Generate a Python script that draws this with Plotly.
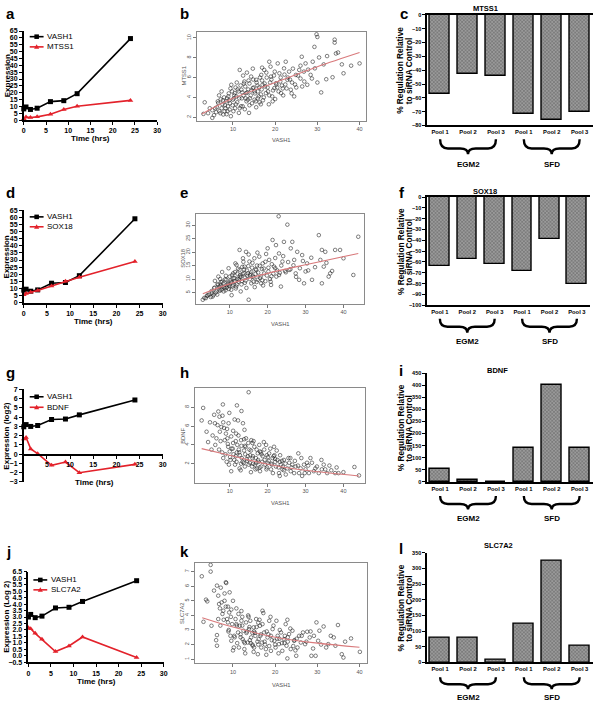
import plotly.graph_objects as go

W, H = 600, 707
def fx(p): return p / W
def fy(p): return 1 - p / H

# ---------------- data ----------------
time_hrs = [0, 0.5, 1.5, 3, 6, 9, 12, 24]
vash1_a = [8.2, 9.6, 7.8, 8.7, 13.5, 14.2, 19.3, 59.5]
mtss1_a = [1.0, 2.2, 1.9, 2.4, 4.3, 7.7, 10.1, 14.4]
vash1_d = [8.8, 9.5, 8.1, 9.0, 13.7, 14.2, 19.0, 59.0]
sox18_d = [5.6, 6.5, 7.4, 8.6, 11.8, 15.1, 17.9, 29.0]
vash1_g = [2.96, 3.2, 3.0, 3.1, 3.75, 3.8, 4.25, 5.86]
bdnf_g = [1.64, 1.8, 0.57, 0.05, -1.2, -0.85, -2.0, -1.1]
vash1_j = [3.0, 3.2, 2.95, 3.07, 3.7, 3.75, 4.2, 5.8]
slc7a2_j = [2.17, 2.1, 1.74, 1.28, 0.34, 0.77, 1.46, -0.12]

pool_labels = ["Pool 1", "Pool 2", "Pool 3", "Pool 1", "Pool 2", "Pool 3"]
mtss1_bar = [-57.3, -42.5, -43.9, -71.6, -75.9, -70.2]
sox18_bar = [-63.4, -57.0, -61.6, -68.0, -38.4, -80.2]
bdnf_bar = [52, 7, 1, 141, 400, 141]
slc7a2_bar = [80, 77, 7, 122, 325, 53]

# scatter b: VASH1 vs MTSS1
b_x = [3.3, 3.0, 4.1, 5.1, 5.1, 6.5, 6.7, 7.3, 7.7, 8.0, 8.4, 8.8, 9.2, 9.6, 10.0, 10.4, 10.8, 11.4,
       11.6, 12.0, 12.3, 12.7, 13.1, 13.5, 13.8, 14.3, 14.7, 15.1, 15.5, 15.9, 16.3, 16.7, 17.0, 17.4,
       17.8, 18.6, 19.0, 19.8, 20.0, 20.2, 20.6, 21.0, 21.4, 22.1, 22.5, 22.9, 23.3, 23.7, 24.5, 24.9,
       25.7, 26.3, 26.4, 26.8, 27.2, 27.6, 28.4, 28.9, 29.3, 29.4, 29.8, 30.0, 30.0, 30.4, 30.9, 31.5,
       32.3, 32.1, 33.6, 34.1, 34.1, 34.4, 34.9, 35.8, 36.2, 38.0, 40.0,
       6.2, 6.8, 7.1, 7.5, 7.9, 8.2, 8.6, 9.0, 9.3, 9.8, 10.2, 10.6, 11.0, 11.3, 11.8, 12.1, 12.5, 12.9,
       13.2, 13.6, 13.9, 14.2, 14.5, 14.9, 15.2, 15.6, 15.9, 16.2, 16.6, 16.9, 17.3, 17.6, 18.0, 18.3,
       18.8, 19.3, 19.7, 20.5, 21.2, 21.8, 22.4, 23.0, 24.0, 25.0, 26.0, 4.5, 5.5, 6.0, 8.5, 9.5, 10.5,
       12.8, 15.5, 18.5,
       5.8, 6.4, 7.0, 7.6, 8.1, 8.7, 9.1, 9.4, 9.9, 10.3, 10.7, 11.1, 11.5, 11.9, 12.2, 12.6, 13.0,
       13.4, 13.7, 14.0, 14.4, 14.8, 15.1, 15.4, 15.8, 16.1, 16.4, 16.8, 17.1, 17.5, 17.9, 18.2, 18.6,
       19.1, 19.5, 19.9, 20.3, 20.8, 21.3, 21.6, 22.2, 22.7, 23.5, 24.2, 24.7, 25.4, 26.0, 26.9, 27.8,
       28.7, 7.3, 8.9, 10.9, 12.4, 13.3, 14.7, 16.9, 18.9, 10.1, 11.6, 13.9, 16.6, 19.4, 21.9, 23.9]
b_y = [3.5, 2.33, 2.4, 2.7, 1.93, 3.43, 4.2, 2.9, 2.27, 2.6, 3.6, 3.1, 2.77, 5.27, 3.77, 4.43, 4.1, 2.43,
       6.77, 4.77, 3.1, 5.6, 4.43, 3.77, 2.43, 6.1, 4.93, 3.77, 5.77, 4.6, 3.5, 6.27, 5.27, 6.77,
       4.43, 7.6, 6.1, 4.93, 3.83, 5.43, 7.43, 6.43, 4.43, 6.93, 7.6, 5.77, 6.6, 4.77, 4.1, 6.27,
       6.77, 8.1, 5.1, 6.6, 7.43, 5.27, 6.27, 7.6, 9.1, 6.93, 10.37, 10.1, 5.5, 8.03, 4.5, 7.33,
       8.17, 5.83, 6.03, 9.83, 9.53, 8.43, 8.53, 7.33, 6.43, 7.2, 7.43,
       3.0, 2.6, 3.8, 3.3, 4.0, 2.9, 3.9, 4.4, 3.4, 4.6, 3.9, 5.0, 3.5, 4.6, 5.2, 3.9, 4.2, 5.1,
       3.6, 4.8, 5.4, 4.2, 3.4, 5.0, 4.4, 5.5, 3.9, 5.0, 4.3, 5.7, 4.0, 5.1, 6.0, 4.6,
       5.5, 4.1, 6.2, 5.0, 5.6, 4.9, 5.3, 6.0, 5.5, 5.0, 5.9, 2.9, 2.2, 2.5, 2.3, 2.1, 2.9,
       2.8, 3.0, 3.3,
       2.9, 3.6, 2.4, 3.7, 3.2, 2.6, 3.7, 4.9, 3.2, 4.2, 3.3, 4.8, 3.9, 3.1, 4.5, 5.4, 3.9,
       4.5, 5.7, 3.9, 4.7, 5.8, 4.6, 3.6, 5.2, 4.1, 6.0, 4.8, 3.7, 5.4, 6.5, 5.0, 4.2,
       5.8, 4.7, 6.6, 5.3, 4.6, 6.0, 5.2, 6.3, 4.9, 5.8, 6.9, 5.3, 6.2, 7.2, 5.6, 6.8,
       5.9, 4.6, 4.1, 5.5, 6.2, 6.5, 6.9, 7.0, 7.1, 2.6, 2.9, 3.2, 3.3, 3.6, 4.2, 4.4]
b_fit_x = [2.6, 10, 20, 30, 40]
b_fit_y = [2.33, 3.9, 5.5, 7.1, 8.53]

# scatter e: VASH1 vs SOX18
e_x = [2.9, 3.7, 5.0, 5.7, 6.5, 7.0, 7.2, 7.8, 8.3, 8.7, 9.1, 9.6, 10.0, 10.4, 10.9, 11.3, 11.7, 12.6,
       12.6, 13.0, 13.5, 13.9, 14.3, 14.8, 15.0, 15.2, 15.7, 16.1, 16.5, 17.0, 17.4, 17.8, 18.3, 18.7,
       19.1, 20.0, 20.4, 20.9, 21.3, 21.7, 22.2, 22.3, 22.9, 23.0, 23.5, 23.9, 24.3, 25.2, 25.7, 26.1,
       26.5, 27.0, 27.4, 27.8, 28.3, 29.1, 29.6, 30.0, 30.4, 31.7, 33.5, 33.9, 34.3, 34.3, 34.8, 35.2,
       36.1, 36.5, 37.8, 39.1, 40.0, 42.6, 43.9,
       6.0, 6.8, 7.4, 8.0, 8.5, 9.0, 9.4, 9.8, 10.2, 10.6, 11.0, 11.4, 11.9, 12.2, 12.8, 13.2, 13.7,
       14.1, 14.5, 15.4, 15.9, 16.3, 16.8, 17.2, 18.0, 18.5, 19.4, 20.2, 21.0, 22.0, 23.2, 24.6, 4.2,
       5.3, 7.6, 8.9, 10.7, 12.0, 13.3, 14.0, 15.5, 11.5, 12.4,
       4.5, 5.2, 5.9, 6.3, 6.9, 7.3, 7.7, 8.1, 8.4, 8.8, 9.2, 9.5, 9.9, 10.3, 10.6, 10.9, 11.3, 11.6,
       12.0, 12.3, 12.7, 13.1, 13.4, 13.8, 14.2, 14.6, 14.9, 15.3, 15.7, 16.0, 16.4, 16.8, 17.1, 17.5,
       17.9, 18.2, 18.6, 19.0, 19.4, 19.8, 20.2, 20.6, 21.1, 21.5, 22.0, 22.5, 23.0, 23.6, 24.1, 24.8,
       25.4, 26.0, 26.8, 27.5, 28.5, 29.3, 30.7, 31.5, 32.5, 35.5, 37.0, 10.5, 12.9, 14.4, 16.6, 18.8,
       20.8, 8.0, 9.7, 11.8, 13.6, 15.0, 17.3, 19.6, 6.1, 7.5, 5.5, 4.0, 3.3, 6.7]
e_y = [2.3, 2.9, 3.3, 4.1, 5.4, 10.9, 7.2, 6.0, 8.4, 6.6, 9.7, 7.8, 10.9, 6.0, 12.1, 9.1, 7.2, 20.8,
       13.4, 10.9, 17.7, 14.6, 20.1, 12.1, 2.3, 16.5, 8.4, 10.9, 17.7, 13.4, 9.7, 18.3, 8.4, 15.8,
       12.1, 21.4, 17.1, 7.8, 24.5, 14.6, 22.6, 10.9, 33.3, 19.5, 7.2, 16.5, 23.8, 30.2, 13.4, 21.4,
       23.8, 17.1, 12.1, 20.1, 9.7, 18.9, 8.4, 12.8, 15.8, 9.7, 26.3, 17.1, 20.8, 8.4, 14.6, 20.1,
       10.9, 12.1, 20.8, 20.8, 17.7, 11.5, 25.7,
       6.8, 8.1, 5.6, 9.0, 7.0, 11.2, 8.0, 6.3, 9.5, 8.8, 10.3, 12.6, 8.0, 13.8, 11.5, 9.3, 12.2,
       10.6, 13.2, 11.4, 14.2, 9.0, 11.9, 15.0, 10.4, 13.7, 9.2, 12.8, 11.0, 14.0, 12.3, 13.0, 4.0,
       4.8, 7.5, 5.8, 7.4, 10.1, 14.5, 8.6, 12.0, 15.8, 9.9,
       4.2, 5.5, 6.6, 4.9, 7.8, 6.1, 8.9, 7.2, 5.4, 9.9, 6.8, 8.3, 7.4, 9.0, 11.4, 7.9, 10.3, 6.5,
       12.0, 9.0, 10.8, 8.0, 11.9, 13.5, 9.4, 11.2, 14.8, 10.0, 12.6, 16.0, 10.6, 13.6, 8.9, 12.4,
       14.9, 11.0, 9.5, 13.9, 16.4, 11.3, 14.2, 10.0, 15.5, 12.0, 17.8, 13.2, 11.5, 15.0, 18.5, 12.5,
       16.3, 13.6, 15.1, 10.8, 14.0, 16.7, 13.2, 17.9, 14.4, 16.0, 13.0, 4.0, 5.4, 6.7, 7.0, 7.6,
       9.0, 12.6, 14.0, 15.2, 16.4, 19.1, 19.8, 19.3, 9.3, 10.0, 3.5, 3.7, 3.0, 4.2]
e_fit_x = [2.9, 10, 20, 30, 43.9]
e_fit_y = [4.5, 8.2, 12.1, 15.3, 19.5]

# scatter h: VASH1 vs BDNF
h_x = [3.0, 2.6, 3.9, 4.3, 4.8, 5.2, 6.1, 6.5, 7.0, 7.2, 7.4, 7.8, 8.1, 8.3, 8.3, 8.7, 9.0, 9.3, 9.6,
       9.8, 10.0, 10.4, 10.9, 11.3, 11.6, 11.7, 12.2, 12.4, 12.6, 13.0, 13.5, 13.7, 13.9, 14.2, 14.3,
       14.8, 15.0, 15.2, 15.7, 15.9, 16.1, 16.5, 17.0, 17.4, 17.8, 18.3, 18.7, 19.1, 19.6, 20.0, 20.4,
       20.9, 21.3, 21.7, 22.2, 22.6, 23.0, 23.5, 23.9, 24.3, 24.8, 25.2, 25.7, 26.1, 26.5, 27.0, 27.4,
       28.1, 28.3, 28.7, 29.1, 29.6, 30.0, 30.4, 30.9, 31.7, 32.2, 32.6, 33.5, 34.2, 34.3, 35.2, 35.7,
       36.3, 37.8, 38.7, 40.0, 42.9, 44.1,
       10.2, 11.0, 11.8, 12.5, 13.2, 13.8, 14.6, 15.4, 16.2, 16.9, 17.6, 18.4, 19.2, 20.1, 21.0, 22.0,
       23.2, 12.0, 14.0, 16.0, 18.0, 9.5, 10.8, 13.0, 15.0, 17.2, 19.8, 21.8, 24.0, 26.0,
       5.5, 6.2, 6.8, 7.6, 8.0, 8.5, 8.9, 9.4, 9.7, 10.1, 10.5, 10.9, 11.2, 11.6, 11.9, 12.3, 12.7,
       13.1, 13.4, 13.8, 14.1, 14.5, 14.9, 15.3, 15.6, 16.0, 16.3, 16.7, 17.1, 17.5, 17.9, 18.2, 18.6,
       19.0, 19.4, 19.8, 20.3, 20.7, 21.1, 21.6, 22.0, 22.4, 22.9, 23.3, 23.8, 24.3, 24.7, 25.5, 26.3,
       27.2, 28.0, 28.9, 29.8, 30.7, 31.3, 33.0, 34.8, 36.8, 38.2, 10.4, 12.9, 15.6, 18.0, 21.4, 23.2,
       9.2, 11.4, 14.0, 16.8, 19.7, 7.3, 9.9, 11.9, 13.1, 8.2, 5.9]
h_y = [7.93, 6.6, 5.4, 4.3, 6.4, 3.5, 6.3, 4.7, 7.55, 3.5, 5.4, 5.9, 7.1, 6.4, 2.6, 4.5, 5.2, 5.7, 3.8,
       1.9, 3.3, 4.9, 4.2, 6.7, 2.8, 5.2, 6.6, 3.5, 1.5, 4.5, 6.3, 2.1, 5.6, 3.8, 4.7,
       2.8, 9.6, 3.5, 4.5, 1.7, 2.8, 3.8, 2.1, 3.1, 4.0, 1.7, 2.8, 3.5, 4.0, 2.1, 3.1,
       1.4, 2.6, 3.8, 1.7, 2.4, 1.0, 1.9, 1.4, 2.4, 0.85, 1.5, 2.1, 1.2, 1.9, 1.0, 1.7,
       3.1, 1.0, 1.5, 0.7, 1.9, 1.4, 2.1, 1.0, 2.1, 1.2, 1.5, 1.0, 2.4, 1.4, 1.4, 1.0,
       1.8, 1.0, 1.0, 1.1, 1.65, 0.75,
       2.4, 3.0, 2.2, 3.2, 2.6, 3.4, 2.3, 2.9, 2.0, 2.6, 2.2, 3.0, 2.4, 2.7, 2.0, 2.5,
       2.2, 4.0, 3.9, 4.2, 3.3, 4.1, 3.6, 2.0, 1.9, 1.5, 1.6, 2.9, 1.7, 2.6,
       5.0, 4.0, 6.1, 4.4, 3.2, 5.8, 3.0, 4.7, 6.3, 2.7, 3.6, 5.5, 2.4, 4.4, 3.2, 5.0, 2.9,
       3.9, 2.2, 4.6, 3.0, 2.5, 4.2, 2.1, 3.4, 2.6, 4.4, 1.9, 3.5, 2.4, 1.6, 3.2, 2.2,
       4.3, 1.9, 2.9, 2.3, 3.6, 1.9, 2.8, 2.2, 3.4, 1.6, 2.9, 2.3, 1.3, 2.0, 2.6, 1.6,
       2.3, 1.8, 2.6, 1.0, 1.8, 2.6, 1.7, 1.9, 1.3, 1.6, 1.2, 1.3, 1.1, 1.2, 1.0, 0.7,
       2.2, 1.9, 1.7, 1.4, 1.4, 7.0, 7.4, 8.2, 7.6, 8.3, 7.2]
h_fit_x = [2.6, 10, 20, 30, 44.1]
h_fit_y = [3.6, 2.9, 1.95, 1.3, 0.7]

# scatter k: VASH1 vs SLC7A2
k_x = [2.6, 3.0, 3.6, 3.9, 4.7, 4.7, 4.9, 6.2, 6.5, 6.7, 6.5, 6.2, 6.2, 6.9, 7.3, 7.7, 8.0, 8.3, 8.4,
       8.6, 8.8, 9.1, 9.2, 9.4, 9.6, 9.8, 10.0, 10.2, 10.6, 10.8, 11.2, 11.4, 11.6, 12.0, 12.3, 12.5,
       12.7, 13.1, 13.5, 13.8, 14.1, 14.3, 14.7, 14.9, 15.3, 15.5, 15.9, 16.1, 16.4, 16.7, 16.9, 17.0,
       17.2, 17.4, 17.8, 18.2, 18.6, 19.0, 19.4, 19.8, 20.3, 20.6, 20.9, 21.4, 21.7, 22.1, 22.5, 22.7,
       22.9, 23.3, 23.7, 24.1, 24.5, 25.0, 25.3, 25.7, 26.1, 26.6, 27.1, 27.6, 28.2, 28.6, 29.0, 29.2,
       29.6, 29.8, 30.2, 30.5, 31.5, 32.1, 32.6, 33.9, 34.3, 34.9, 35.8, 36.2, 38.0, 40.1,
       10.4, 11.0, 11.8, 12.6, 13.3, 14.0, 14.6, 15.2, 15.8, 16.5, 17.6, 18.4, 19.2, 20.0, 21.0, 22.2,
       23.0, 24.6, 9.0, 10.9, 12.2, 13.9, 15.0, 16.0, 7.5, 8.8,
       7.0, 7.8, 8.3, 8.9, 9.5, 10.3, 10.8, 11.3, 11.8, 12.2, 12.8, 13.2, 13.7, 14.2, 14.6, 15.0, 15.6,
       16.0, 16.6, 17.0, 17.5, 18.0, 18.6, 19.0, 19.6, 20.1, 20.5, 21.1, 21.6, 22.3, 23.0, 23.6, 24.3,
       25.1, 26.3, 27.4, 28.4, 30.9, 33.2, 36.6, 5.5, 7.1, 8.0, 9.6, 12.0, 13.6, 16.3, 18.9, 22.9,
       6.0, 10.0, 12.9, 14.9, 17.9, 20.8, 24.8]
k_y = [6.68, 3.56, 5.08, 4.96, 7.46, 7.0, 3.29, 6.04, 5.35, 4.78, 3.75, 2.65, 1.92, 4.48, 4.89, 4.32,
       5.0, 6.27, 6.22, 3.75, 3.52, 4.2, 5.58, 2.6, 2.26, 3.4, 5.0, 1.8, 3.75, 4.48, 2.83, 1.8, 3.29,
       3.63, 2.37, 2.95, 1.69, 3.52, 2.14, 3.06, 3.63, 2.49, 1.92, 3.18, 2.6, 3.75, 1.34, 2.37, 3.29,
       1.8, 2.14, 4.32, 4.16, 2.83, 1.69, 2.49, 3.63, 1.57, 3.06, 2.26, 3.63, 2.6, 2.03, 2.83, 1.57,
       2.37, 3.4, 1.92, 1.05, 2.72, 1.69, 2.95, 2.26, 1.23, 1.8, 2.6, 2.14, 2.83, 2.03, 2.88, 2.49,
       1.23, 1.73, 2.6, 1.23, 3.52, 2.26, 2.95, 3.24, 1.8, 2.03, 2.49, 1.92, 3.34, 1.34, 1.11, 2.42, 1.5,
       2.5, 2.1, 2.7, 2.2, 2.9, 2.3, 2.0, 2.8, 2.2, 2.6, 2.0, 2.7, 2.3, 2.0, 2.4, 2.1,
       2.5, 2.3, 3.0, 3.3, 3.9, 3.2, 2.9, 3.5, 4.1, 4.6,
       3.3, 3.7, 4.6, 2.9, 3.9, 2.6, 3.4, 4.1, 2.5, 3.3, 2.1, 2.8, 3.9, 2.1, 2.8, 1.8, 3.2,
       2.0, 2.7, 3.4, 2.2, 2.9, 1.9, 2.6, 3.3, 1.8, 2.4, 3.0, 2.1, 2.6, 2.2, 3.1, 1.9,
       2.4, 2.6, 2.2, 2.9, 2.0, 2.6, 2.2, 5.7, 5.9, 5.5, 4.4, 4.3, 4.0, 3.7, 3.9, 3.7,
       2.3, 1.6, 1.4, 1.5, 1.3, 1.4, 1.6]
k_fit_x = [2.7, 10, 20, 30, 40]
k_fit_y = [3.84, 3.2, 2.5, 2.1, 1.82]

# ---------------- figure ----------------
fig = go.Figure()
FONT = "Liberation Sans, Arial, sans-serif"
RED = "#e3222b"
line_panels = [
    (1, vash1_a, "MTSS1", mtss1_a),
    (4, vash1_d, "SOX18", sox18_d),
    (7, vash1_g, "BDNF", bdnf_g),
    (10, vash1_j, "SLC7A2", slc7a2_j),
]
for n, vy, gname, gy in line_panels:
    xa = "x" if n == 1 else f"x{n}"
    ya = "y" if n == 1 else f"y{n}"
    fig.add_trace(go.Scatter(x=time_hrs, y=vy, name="VASH1", mode="lines+markers", showlegend=False,
                             line=dict(color="black", width=1.6),
                             marker=dict(symbol="square", size=5, color="black"),
                             xaxis=xa, yaxis=ya, cliponaxis=False))
    fig.add_trace(go.Scatter(x=time_hrs, y=gy, name=gname, mode="lines+markers", showlegend=False,
                             line=dict(color=RED, width=1.6),
                             marker=dict(symbol="triangle-up", size=5, color=RED),
                             xaxis=xa, yaxis=ya, cliponaxis=False))

scatter_panels = [
    (2, b_x, b_y, b_fit_x, b_fit_y),
    (5, e_x, e_y, e_fit_x, e_fit_y),
    (8, h_x, h_y, h_fit_x, h_fit_y),
    (11, k_x, k_y, k_fit_x, k_fit_y),
]
for n, sx, sy, fx_, fy_ in scatter_panels:
    fig.add_trace(go.Scatter(x=sx, y=sy, mode="markers", showlegend=False,
                             marker=dict(symbol="circle-open", size=3.6,
                                         color="rgba(35,35,35,0.72)", line=dict(width=0.8)),
                             xaxis=f"x{n}", yaxis=f"y{n}"))
    fig.add_trace(go.Scatter(x=fx_, y=fy_, mode="lines", showlegend=False,
                             line=dict(color="#d97a7c", width=1.1, shape="spline"),
                             xaxis=f"x{n}", yaxis=f"y{n}"))

bar_panels = [(3, mtss1_bar), (6, sox18_bar), (9, bdnf_bar), (12, slc7a2_bar)]
for n, vals in bar_panels:
    fig.add_trace(go.Bar(x=list(range(6)), y=vals, width=0.72, showlegend=False,
                         marker=dict(color="#8a8a8a", line=dict(color="black", width=1.4),
                                     pattern=dict(shape="x", size=2.5, solidity=0.4,
                                                  fgcolor="#3a3a3a", bgcolor="#9a9a9a")),
                         xaxis=f"x{n}", yaxis=f"y{n}"))

# ---------------- axes ----------------
def prism_axis(domain, rng, tickvals, anchor, ticktext=None, **kw):
    d = dict(domain=domain, range=rng, anchor=anchor, tickvals=tickvals,
             showline=True, linecolor="black", linewidth=1.6, ticks="outside",
             ticklen=3, tickwidth=1.3, tickcolor="black", showgrid=False, zeroline=False,
             tickfont=dict(family=FONT, size=7, color="black", weight="bold"))
    if ticktext is not None:
        d["ticktext"] = ticktext
    d.update(kw)
    return d

def r_axis(domain, rng, tickvals, anchor, angle=0, **kw):
    d = dict(domain=domain, range=rng, anchor=anchor, tickvals=tickvals,
             showline=True, mirror=True, linecolor="#8a8a8a", linewidth=1, ticks="outside",
             ticklen=3, tickwidth=0.8, tickcolor="#777", showgrid=False, zeroline=False,
             tickangle=angle, tickfont=dict(family=FONT, size=5.5, color="#555"))
    d.update(kw)
    return d

t_ticks = [0, 5, 10, 15, 20, 25, 30]
lay = {}
lay["xaxis"] = prism_axis([fx(22), fx(156.7)], [0, 30], t_ticks, "y")
lay["yaxis"] = prism_axis([fy(117.3), fy(27.3)], [0, 65], list(range(0, 66, 5)), "x")
lay["xaxis4"] = prism_axis([fx(22), fx(162.3)], [0, 30], t_ticks, "y4")
lay["yaxis4"] = prism_axis([fy(301.7), fy(208.3)], [0, 65], list(range(0, 66, 5)), "x4")
lay["xaxis7"] = prism_axis([fx(22), fx(162.3)], [0, 30], t_ticks[1:], "free",
                           position=fy(455.3))
lay["yaxis7"] = prism_axis([fy(482.7), fy(389.3)], [-3, 7], list(range(-3, 8)), "x7")
lay["xaxis10"] = prism_axis([fx(26.7), fx(163.3)], [0, 30], t_ticks, "y10")
lay["yaxis10"] = prism_axis([fy(665), fy(573.3)], [-0.5, 6.5],
                            [v / 2 for v in range(-1, 14)], "x10", tickformat=".1f")

lay["xaxis2"] = r_axis([fx(197), fx(368)], [1.48, 41.6], [10, 20, 30, 40], "y2")
lay["yaxis2"] = r_axis([fy(118), fy(28)], [1.63, 10.63], [2, 4, 6, 8, 10], "x2", angle=-90)
lay["xaxis5"] = r_axis([fx(196), fx(366)], [1.12, 45.5], [10, 20, 30, 40], "y5")
lay["yaxis5"] = r_axis([fy(302.7), fy(211.7)], [0.83, 34.3], [5, 10, 15, 20, 25, 30], "x5", angle=-90)
lay["xaxis8"] = r_axis([fx(195), fx(366.7)], [0.86, 45.7], [10, 20, 30, 40], "y8")
lay["yaxis8"] = r_axis([fy(483.3), fy(388.3)], [0.0, 10.0], [2, 4, 6, 8], "x8", angle=-90)
lay["xaxis11"] = r_axis([fx(195), fx(368.3)], [1.0, 41.7], [10, 20, 30, 40], "y11")
lay["yaxis11"] = r_axis([fy(665.7), fy(564.3)], [0.73, 7.61], [1, 2, 3, 4, 5, 6, 7], "x11", angle=-90)

bar_tf = dict(family=FONT, size=5.5, color="black", weight="bold")
bar_x = dict(ticks="", tickfont=dict(family=FONT, size=5.8, color="black", weight="bold"))
lay["xaxis3"] = prism_axis([fx(429), fx(597)], [-0.48, 5.48], list(range(6)), "y3",
                           ticktext=pool_labels, mirror=True, **bar_x)
lay["yaxis3"] = prism_axis([fy(122.7), fy(11)], [-80, 0], list(range(-80, 1, 10)), "x3",
                           tickfont=bar_tf, ticklen=2.5)
lay["xaxis6"] = prism_axis([fx(429), fx(594)], [-0.48, 5.48], list(range(6)), "y6",
                           ticktext=pool_labels, mirror=True, **bar_x)
lay["yaxis6"] = prism_axis([fy(304.3), fy(195)], [-100, 0], list(range(-100, 1, 10)), "x6",
                           tickfont=bar_tf, ticklen=2.5)
lay["xaxis9"] = prism_axis([fx(429), fx(597)], [-0.48, 5.48], list(range(6)), "y9",
                           ticktext=pool_labels, **bar_x)
lay["yaxis9"] = prism_axis([fy(482.7), fy(372.7)], [0, 450], list(range(0, 451, 50)), "x9",
                           tickfont=bar_tf, ticklen=2.5)
lay["xaxis12"] = prism_axis([fx(429), fx(597)], [-0.48, 5.48], list(range(6)), "y12",
                            ticktext=pool_labels, **bar_x)
lay["yaxis12"] = prism_axis([fy(665), fy(554.3)], [0, 350], list(range(0, 351, 50)), "x12",
                            tickfont=bar_tf, ticklen=2.5)

annotations = []
shapes = []
def txt(x, y, s, size=8, bold=True, angle=0, color="black", xanchor="center"):
    annotations.append(dict(x=fx(x), y=fy(y), xref="paper", yref="paper", text=s,
                            showarrow=False, textangle=angle, xanchor=xanchor, yanchor="middle",
                            font=dict(family=FONT, size=size, color=color,
                                      weight="bold" if bold else "normal")))

# manual legends (key line + marker + label)
for x0, ys, gname in [(28, (33, 43.3), "MTSS1"), (28, (215, 225), "SOX18"),
                      (28, (396.7, 407.3), "BDNF"), (31.7, (581.7, 591.7), "SLC7A2")]:
    x1 = x0 + 14
    xc = (x0 + x1) / 2
    for yk, name, col, sym in [(ys[0], "VASH1", "black", "sq"), (ys[1], gname, RED, "tri")]:
        shapes.append(dict(type="line", xref="paper", yref="paper", x0=fx(x0), x1=fx(x1),
                           y0=fy(yk), y1=fy(yk), line=dict(color=col, width=1.6)))
        if sym == "sq":
            shapes.append(dict(type="rect", xref="paper", yref="paper", x0=fx(xc - 2.3),
                               x1=fx(xc + 2.3), y0=fy(yk + 2.3), y1=fy(yk - 2.3),
                               fillcolor=col, line=dict(width=0)))
        else:
            shapes.append(dict(type="path", xref="paper", yref="paper",
                               path=f"M {fx(xc-2.6)},{fy(yk+2)} L {fx(xc+2.6)},{fy(yk+2)} "
                                    f"L {fx(xc)},{fy(yk-2.6)} Z",
                               fillcolor=col, line=dict(width=0)))
        txt(x1 + 1.5, yk, name, size=8, bold=False, xanchor="left")

# panel letters
for s, x, y in [("a", 9, 10), ("b", 184, 10), ("c", 406, 10),
                ("d", 9, 190), ("e", 184, 190), ("f", 404, 190),
                ("g", 9, 372), ("h", 184, 372), ("i", 403, 370),
                ("j", 7, 553), ("k", 184, 553), ("l", 403, 550)]:
    txt(x, y, s, size=15)

# line-panel axis titles
txt(5, 72, "Expression", angle=-90)
txt(89, 136, "Time (hrs)")
txt(5, 255, "Expression", angle=-90)
txt(92, 321, "Time (hrs)")
txt(5, 436, "Expression (log2)", angle=-90)
txt(93, 483, "Time (hrs)")
txt(5, 619, "Expression (Log 2)", angle=-90)
txt(95, 684, "Time (hrs)")

# scatter axis titles
for gname, xl, yc, yv, xc in [("MTSS1", 184, 73, 137.7, 282),
                              ("SOX18", 183, 257, 322.7, 281),
                              ("BDNF", 183, 436, 504.3, 281),
                              ("SLC7A2", 182, 615, 688.3, 282)]:
    txt(xl, yc, gname, size=5.8, bold=False, angle=-90, color="#555")
    txt(xc, yv, "VASH1", size=5.8, bold=False, color="#555")

# bar titles (two rotated lines)
for title, tx, ty, yc in [("MTSS1", 488, 5, 67), ("SOX18", 488, 189, 250),
                          ("BDNF", 500, 370, 428), ("SLC7A2", 502, 547, 610)]:
    txt(tx, ty, title, size=7.5)
    txt(402.5, yc, "% Regulation Relative", size=8.3, angle=-90)
    txt(411, yc, "to siRNA Control", size=8.3, angle=-90)

# group labels + braces
for n, ytop, ymid, ybot, ylab in [(3, 136.7, 146, 151.7, 161.7), (6, 318, 326, 332, 340.7),
                                  (9, 497, 505, 510.5, 520), (12, 680, 687, 692, 700)]:
    for x0, x1, lab in [(0, 2, "EGM2"), (3, 5, "SFD")]:
        xc = (x0 + x1) / 2
        a, b_, c = fy(ytop), fy(ymid), fy(ybot)
        d = 0.28
        path = (f"M {x0},{a} Q {x0},{b_} {x0+d},{b_} L {xc-d},{b_} Q {xc},{b_} {xc},{c} "
                f"Q {xc},{b_} {xc+d},{b_} L {x1-d},{b_} Q {x1},{b_} {x1},{a}")
        shapes.append(dict(type="path", path=path, xref=f"x{n}", yref="paper",
                           line=dict(color="black", width=2.4)))
        annotations.append(dict(x=xc, y=fy(ylab), xref=f"x{n}", yref="paper", text=lab,
                                showarrow=False, yanchor="middle",
                                font=dict(family=FONT, size=8, color="black", weight="bold")))

fig.update_layout(width=W, height=H, margin=dict(l=0, r=0, t=0, b=0),
                  paper_bgcolor="white", plot_bgcolor="white", annotations=annotations,
                  shapes=shapes, bargap=0, showlegend=False, **lay)
fig.write_html("out.html", config={"displayModeBar": False},
               post_script="document.body.style.margin='0';document.body.style.overflow='hidden';")
